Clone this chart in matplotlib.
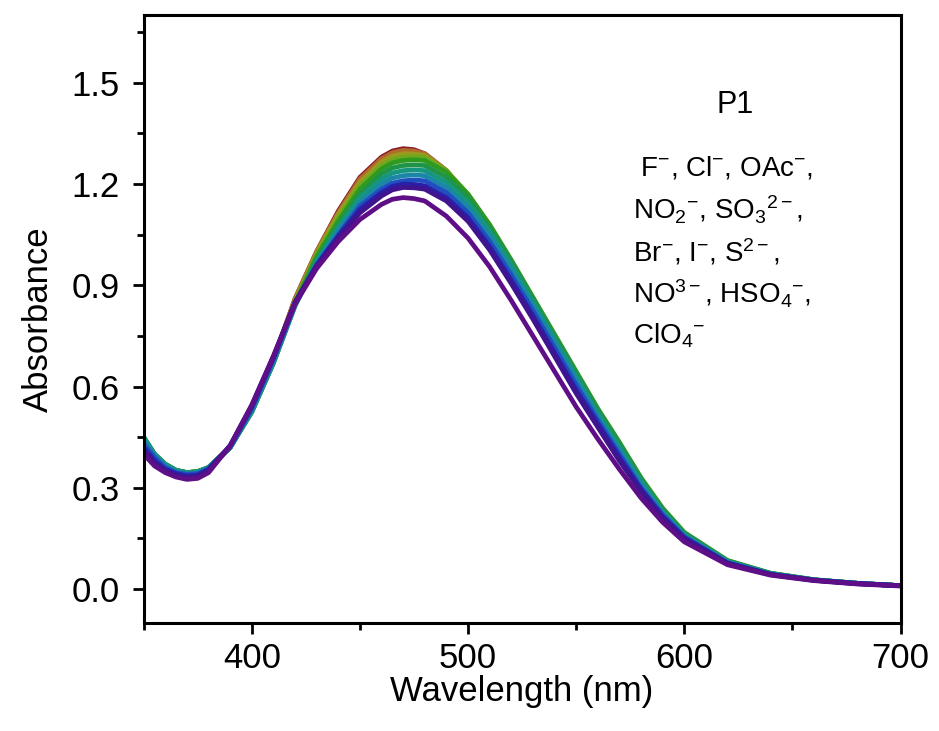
import matplotlib
matplotlib.use("Agg")
import matplotlib.pyplot as plt
from matplotlib.ticker import MultipleLocator

plt.rcParams['font.family'] = ['Liberation Sans', 'DejaVu Sans']
plt.rcParams['mathtext.fontset'] = 'custom'
plt.rcParams['mathtext.rm'] = 'Liberation Sans'
plt.rcParams['mathtext.it'] = 'Liberation Sans'

# wavelength grid (nm)
wavelength = [350, 355, 360, 365, 370, 375, 380, 390, 400, 410, 420, 430, 440, 450, 460, 465, 470, 475,
              480, 490, 500, 510, 520, 530, 540, 550, 560, 570, 580, 590, 600, 620, 640, 660, 680, 700]

# absorbance of P1 with each anion
abs_maroon = [0.43, 0.39, 0.36, 0.35, 0.345, 0.347, 0.36, 0.42, 0.53, 0.68, 0.86, 1.00, 1.12, 1.22, 1.28, 1.298, 1.305, 1.302,
              1.29, 1.24, 1.16, 1.06, 0.95, 0.84, 0.72, 0.61, 0.50, 0.40, 0.30, 0.22, 0.155, 0.08, 0.045, 0.027, 0.017, 0.01]
abs_brown = [0.43, 0.39, 0.36, 0.35, 0.345, 0.347, 0.36, 0.42, 0.53, 0.68, 0.86, 1.00, 1.115, 1.215, 1.275, 1.293, 1.30, 1.298,
             1.29, 1.24, 1.165, 1.07, 0.96, 0.845, 0.73, 0.62, 0.51, 0.41, 0.31, 0.225, 0.158, 0.08, 0.045, 0.027, 0.017, 0.01]
abs_olive = [0.44, 0.395, 0.365, 0.35, 0.345, 0.348, 0.36, 0.42, 0.53, 0.68, 0.855, 0.995, 1.11, 1.205, 1.265, 1.283, 1.29, 1.289,
             1.285, 1.24, 1.165, 1.07, 0.965, 0.85, 0.74, 0.63, 0.52, 0.42, 0.32, 0.23, 0.162, 0.082, 0.046, 0.027, 0.017, 0.01]
abs_ygreen = [0.44, 0.395, 0.365, 0.35, 0.345, 0.348, 0.36, 0.42, 0.53, 0.675, 0.85, 0.99, 1.10, 1.195, 1.255, 1.273, 1.28, 1.281,
              1.28, 1.24, 1.17, 1.075, 0.97, 0.86, 0.75, 0.64, 0.53, 0.43, 0.325, 0.235, 0.165, 0.083, 0.046, 0.027, 0.017, 0.01]
abs_green = [0.45, 0.40, 0.37, 0.352, 0.345, 0.348, 0.36, 0.42, 0.525, 0.67, 0.845, 0.985, 1.09, 1.185, 1.245, 1.263, 1.27, 1.272,
             1.27, 1.235, 1.17, 1.08, 0.975, 0.865, 0.755, 0.645, 0.535, 0.435, 0.33, 0.24, 0.168, 0.085, 0.047, 0.028, 0.017, 0.01]
abs_green2 = [0.45, 0.40, 0.37, 0.352, 0.345, 0.348, 0.36, 0.42, 0.525, 0.67, 0.84, 0.975, 1.08, 1.17, 1.23, 1.248, 1.255, 1.257,
              1.255, 1.22, 1.16, 1.07, 0.97, 0.86, 0.75, 0.64, 0.53, 0.43, 0.325, 0.235, 0.165, 0.083, 0.046, 0.027, 0.017, 0.01]
abs_teal = [0.45, 0.40, 0.37, 0.352, 0.345, 0.348, 0.36, 0.42, 0.525, 0.67, 0.84, 0.97, 1.07, 1.16, 1.215, 1.233, 1.24, 1.242,
            1.24, 1.205, 1.145, 1.06, 0.96, 0.85, 0.74, 0.63, 0.52, 0.42, 0.32, 0.23, 0.162, 0.082, 0.046, 0.027, 0.017, 0.01]
abs_cyan = [0.44, 0.395, 0.365, 0.348, 0.34, 0.344, 0.36, 0.42, 0.53, 0.675, 0.84, 0.965, 1.06, 1.145, 1.20, 1.218, 1.225, 1.227,
            1.225, 1.19, 1.13, 1.045, 0.945, 0.84, 0.73, 0.62, 0.51, 0.41, 0.31, 0.225, 0.158, 0.08, 0.045, 0.027, 0.017, 0.01]
abs_blue = [0.43, 0.39, 0.36, 0.345, 0.34, 0.342, 0.355, 0.42, 0.535, 0.68, 0.845, 0.96, 1.05, 1.135, 1.185, 1.203, 1.21, 1.212,
            1.21, 1.175, 1.115, 1.03, 0.93, 0.825, 0.715, 0.605, 0.50, 0.40, 0.30, 0.22, 0.155, 0.078, 0.044, 0.027, 0.017, 0.01]
abs_navy = [0.42, 0.38, 0.355, 0.342, 0.335, 0.338, 0.355, 0.425, 0.54, 0.685, 0.85, 0.96, 1.045, 1.125, 1.175, 1.193, 1.20, 1.199,
            1.195, 1.16, 1.10, 1.015, 0.915, 0.81, 0.70, 0.59, 0.49, 0.39, 0.295, 0.215, 0.152, 0.077, 0.043, 0.026, 0.016, 0.01]
abs_indigo = [0.41, 0.375, 0.35, 0.337, 0.33, 0.333, 0.35, 0.425, 0.545, 0.69, 0.85, 0.955, 1.04, 1.115, 1.165, 1.183, 1.19, 1.189,
              1.185, 1.15, 1.09, 1.005, 0.905, 0.80, 0.69, 0.58, 0.48, 0.38, 0.29, 0.21, 0.149, 0.076, 0.043, 0.026, 0.016, 0.01]
abs_purple = [0.40, 0.365, 0.345, 0.332, 0.325, 0.328, 0.345, 0.425, 0.545, 0.69, 0.845, 0.95, 1.03, 1.095, 1.14, 1.155, 1.16, 1.157,
              1.15, 1.105, 1.04, 0.955, 0.855, 0.75, 0.645, 0.54, 0.445, 0.355, 0.27, 0.198, 0.14, 0.072, 0.041, 0.025, 0.015, 0.009]

series = [abs_maroon, abs_brown, abs_olive, abs_ygreen, abs_green, abs_green2,
          abs_teal, abs_cyan, abs_blue, abs_navy, abs_indigo, abs_purple]
colors = ['#8B1A2B', '#B06A2A', '#9C9A1E', '#6FA81E', '#2E9A1E', '#1F9448',
          '#16957F', '#1A86A8', '#1F4FC0', '#2A20A8', '#40148F', '#5E0E86']

anion_lines = [r' F$^{-}$, Cl$^{-}$, OAc$^{-}$,',
               r'NO$_{2}$$^{-}$, SO$_{3}$$^{2-}$,',
               r'Br$^{-}$, I$^{-}$, S$^{2-}$,',
               r'NO$^{3-}$, HSO$_{4}$$^{-}$,',
               r'ClO$_{4}$$^{-}$']

fig = plt.figure(figsize=(9.39, 7.31), dpi=100)
ax = fig.add_axes([0.153, 0.148, 0.806, 0.831])

for y, c in zip(series, colors):
    ax.plot(wavelength, y, color=c, lw=3.4, solid_joinstyle='round', solid_capstyle='round')

ax.set_xlim(350, 700)
ax.set_ylim(-0.1, 1.7)
ax.xaxis.set_major_locator(MultipleLocator(100))
ax.xaxis.set_minor_locator(MultipleLocator(50))
ax.yaxis.set_major_locator(MultipleLocator(0.3))
ax.yaxis.set_minor_locator(MultipleLocator(0.15))
ax.yaxis.set_major_formatter(plt.FormatStrFormatter('%.1f'))

ax.tick_params(which='major', direction='out', length=8, width=2, labelsize=25, pad=6)
ax.tick_params(axis='y', which='major', pad=9)
ax.tick_params(which='minor', direction='out', length=5, width=2)
for s in ax.spines.values():
    s.set_linewidth(2.2)

ax.set_xlabel('Wavelength (nm)', fontsize=25, labelpad=0)
ax.set_ylabel('Absorbance', fontsize=25, labelpad=12)

ax.text(0.782, 0.852, 'P1', transform=ax.transAxes, fontsize=22, ha='center', va='center')
for i, line in enumerate(anion_lines):
    ax.text(0.647, 0.748 - i * 0.069, line, transform=ax.transAxes, fontsize=20,
            ha='left', va='center')

fig.savefig('out.png', dpi=100)
